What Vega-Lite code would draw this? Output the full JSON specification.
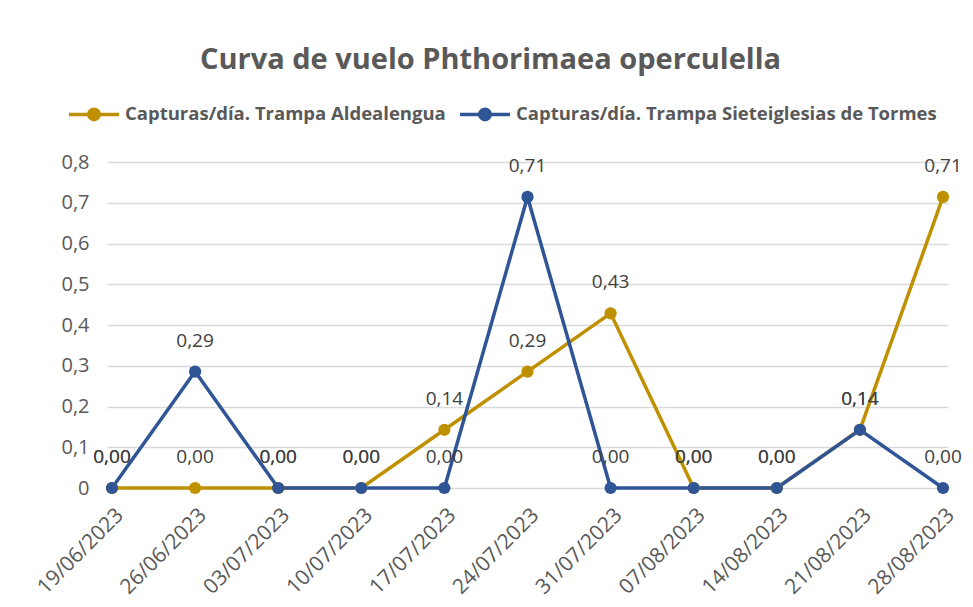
{
  "$schema": "https://vega.github.io/schema/vega-lite/v6.json",
  "width": 841,
  "height": 326,
  "padding": {"left": 33, "top": 46, "right": 10, "bottom": 5},
  "background": "white",
  "config": {
    "locale": {"number": {"decimal": ",", "thousands": ".", "grouping": [3], "currency": ["", " €"]}},
    "view": {"stroke": null},
    "font": "Open Sans"
  },
  "title": {
    "text": "Curva de vuelo Phthorimaea operculella",
    "fontSize": 29,
    "fontWeight": "bold",
    "color": "#595959",
    "font": "Open Sans",
    "offset": 12,
    "dx": -37
  },
  "data": {
    "values": [
      {"fecha": "19/06/2023", "serie": "Capturas/día. Trampa Aldealengua", "valor": 0},
      {"fecha": "26/06/2023", "serie": "Capturas/día. Trampa Aldealengua", "valor": 0},
      {"fecha": "03/07/2023", "serie": "Capturas/día. Trampa Aldealengua", "valor": 0},
      {"fecha": "10/07/2023", "serie": "Capturas/día. Trampa Aldealengua", "valor": 0},
      {"fecha": "17/07/2023", "serie": "Capturas/día. Trampa Aldealengua", "valor": 0.142857},
      {"fecha": "24/07/2023", "serie": "Capturas/día. Trampa Aldealengua", "valor": 0.285714},
      {"fecha": "31/07/2023", "serie": "Capturas/día. Trampa Aldealengua", "valor": 0.428571},
      {"fecha": "07/08/2023", "serie": "Capturas/día. Trampa Aldealengua", "valor": 0},
      {"fecha": "14/08/2023", "serie": "Capturas/día. Trampa Aldealengua", "valor": 0},
      {"fecha": "21/08/2023", "serie": "Capturas/día. Trampa Aldealengua", "valor": 0.142857},
      {"fecha": "28/08/2023", "serie": "Capturas/día. Trampa Aldealengua", "valor": 0.714286},
      {"fecha": "19/06/2023", "serie": "Capturas/día. Trampa Sieteiglesias de Tormes", "valor": 0},
      {"fecha": "26/06/2023", "serie": "Capturas/día. Trampa Sieteiglesias de Tormes", "valor": 0.285714},
      {"fecha": "03/07/2023", "serie": "Capturas/día. Trampa Sieteiglesias de Tormes", "valor": 0},
      {"fecha": "10/07/2023", "serie": "Capturas/día. Trampa Sieteiglesias de Tormes", "valor": 0},
      {"fecha": "17/07/2023", "serie": "Capturas/día. Trampa Sieteiglesias de Tormes", "valor": 0},
      {"fecha": "24/07/2023", "serie": "Capturas/día. Trampa Sieteiglesias de Tormes", "valor": 0.714286},
      {"fecha": "31/07/2023", "serie": "Capturas/día. Trampa Sieteiglesias de Tormes", "valor": 0},
      {"fecha": "07/08/2023", "serie": "Capturas/día. Trampa Sieteiglesias de Tormes", "valor": 0},
      {"fecha": "14/08/2023", "serie": "Capturas/día. Trampa Sieteiglesias de Tormes", "valor": 0},
      {"fecha": "21/08/2023", "serie": "Capturas/día. Trampa Sieteiglesias de Tormes", "valor": 0.142857},
      {"fecha": "28/08/2023", "serie": "Capturas/día. Trampa Sieteiglesias de Tormes", "valor": 0}
    ]
  },
  "encoding": {
    "x": {
      "field": "fecha",
      "type": "ordinal",
      "sort": null,
      "title": null,
      "scale": {"type": "point", "padding": 0.06},
      "axis": {
        "labelAngle": -45,
        "labelFontSize": 21,
        "labelColor": "#595959",
        "ticks": false,
        "domain": false,
        "grid": false,
        "labelPadding": 16
      }
    },
    "y": {
      "field": "valor",
      "type": "quantitative",
      "title": null,
      "scale": {"domain": [0, 0.8], "nice": false},
      "axis": {
        "values": [0, 0.1, 0.2, 0.3, 0.4, 0.5, 0.6, 0.7, 0.8],
        "format": "~g",
        "labelFontSize": 20,
        "labelColor": "#595959",
        "ticks": false,
        "domain": false,
        "gridColor": "#d9d9d9",
        "gridWidth": 1.5,
        "labelPadding": 18
      }
    },
    "color": {
      "field": "serie",
      "type": "nominal",
      "scale": {
        "domain": ["Capturas/día. Trampa Aldealengua", "Capturas/día. Trampa Sieteiglesias de Tormes"],
        "range": ["#BF9000", "#2F5597"]
      },
      "legend": {
        "orient": "none",
        "legendX": -40,
        "legendY": -75,
        "direction": "horizontal",
        "title": null,
        "labelFontSize": 18.5,
        "labelFontWeight": "bold",
        "labelColor": "#595959",
        "labelLimit": 0,
        "symbolType": "M-1,0L1,0M0.07,0A0.07,0.07,0,1,1,-0.07,0A0.07,0.07,0,1,1,0.07,0M0.21,0A0.21,0.21,0,1,1,-0.21,0A0.21,0.21,0,1,1,0.21,0",
        "symbolSize": 2500,
        "symbolStrokeWidth": 3.5,
        "columnPadding": 7,
        "labelOffset": 4
      }
    }
  },
  "layer": [
    {"mark": {"type": "line", "strokeWidth": 3.5}},
    {"mark": {"type": "point", "filled": true, "size": 150, "opacity": 1}},
    {
      "mark": {"type": "text", "dy": -31, "fontSize": 19, "font": "Open Sans"},
      "encoding": {
        "text": {"field": "valor", "type": "quantitative", "format": ".2f"},
        "color": {"value": "#404040"}
      }
    }
  ]
}
